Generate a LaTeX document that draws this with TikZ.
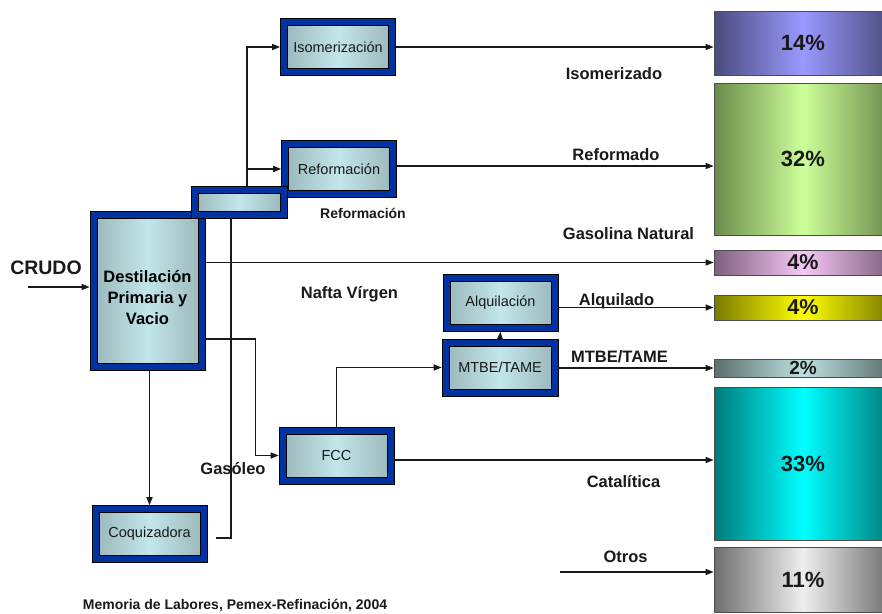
\documentclass[tikz,border=0pt]{standalone}
\usepackage{fontspec}
\setmainfont{Liberation Sans}
\usepackage{tikz}
\usetikzlibrary{arrows.meta,calc}
\definecolor{rmarco}{HTML}{0033A0}
\definecolor{rcelda}{HTML}{98B5B8}
\definecolor{rcian}{HTML}{C2E6EA}
\definecolor{c14a}{HTML}{4B4B7D}\definecolor{c14b}{HTML}{9999FF}
\definecolor{c32a}{HTML}{6B8A4B}\definecolor{c32b}{HTML}{CCFF99}
\definecolor{c4aa}{HTML}{7D5F7D}\definecolor{c4ab}{HTML}{F5C8F5}
\definecolor{c4ba}{HTML}{7A7A00}\definecolor{c4bb}{HTML}{FFFF00}
\definecolor{c2a}{HTML}{5A6E6E}\definecolor{c2b}{HTML}{BEE0E0}
\definecolor{c33a}{HTML}{007A7A}\definecolor{c33b}{HTML}{00FFFF}
\definecolor{c11a}{HTML}{6E6E6E}\definecolor{c11b}{HTML}{EEEEEE}
\tikzset{
  >={Triangle[length=8pt,width=6pt]},
  rflujo/.style={->, black!90, line width=1.5pt},
  rlinea/.style={black!90, line width=1.5pt},
  runidad/.style={rectangle, draw=black, line width=0.6pt, fill=rmarco,
                  minimum width=115pt, minimum height=57pt, inner sep=0pt,
                  align=center, text=black!90, font=\fontsize{14.5}{16}\selectfont,
                  path picture={\shadedraw[left color=rcelda, right color=rcelda,
                    middle color=rcian, draw=black, line width=0.6pt]
                    ([shift={(7pt,-7pt)}]path picture bounding box.north west) rectangle
                    ([shift={(-7pt,7pt)}]path picture bounding box.south east);}},
  rbarra/.style 2 args={draw=black!70, line width=0.7pt, minimum width=178pt,
                  inner sep=0pt, left color=#1, right color=#1, middle color=#2},
  rlbl/.style={text=black!90, font=\fontsize{16.5}{18}\selectfont\bfseries},
  rsub/.style={text=black!90, font=\fontsize{14}{16}\selectfont\bfseries},
}
\begin{document}
\begin{tikzpicture}[x=1pt,y=-1pt]
  \useasboundingbox (0,0) rectangle (882,613);

  % barras de composicion
  \foreach \nom/\yc/\alto/\borde/\centro/\fs/\txt in {
      b14/43/64/c14a/c14b/22/14\%, b32/159/152/c32a/c32b/22/32\%,
      b4a/262.5/25/c4aa/c4ab/21.5/4\%, b4b/307.5/25/c4ba/c4bb/21.5/4\%,
      b2/368/18/c2a/c2b/19/2\%, b33/463.5/153/c33a/c33b/22/33\%,
      b11/580/65/c11a/c11b/22/11\%}
    \node[rbarra={\borde}{\centro}, minimum height=\alto pt, text=black!90,
          font=\fontsize{\fs}{\fs}\selectfont\bfseries] (\nom) at (803,\yc) {\txt};

  % unidades de proceso
  \node[runidad] (iso) at (338,47) {Isomerización};
  \node[runidad] (ref) at (339,169) {Reformación};
  \node[runidad, minimum height=159pt] (dest) at (147.5,290.5) {};
  \node[align=center, text=black, font=\fontsize{16.5}{21}\selectfont\bfseries]
        (tdest) at ([yshift=-7.5pt]dest.center) {Destilación\\Primaria y\\Vacio};
  \node[runidad, minimum width=96pt, minimum height=32pt] (split) at (239,202) {};
  \node[runidad] (coq) at (149.5,534) {Coquizadora};
  \node[runidad] (fcc) at (336.5,455.5) {FCC};
  \node[runidad] (alq) at (500.5,303) {Alquilación};
  \node[runidad, minimum width=116pt] (mtbe) at (500,367.5) {MTBE/TAME};

  \coordinate (crudo) at (28,287);
  \coordinate (otros) at (560,572);
  \coordinate (ramal) at ([xshift=8pt]split.north);
  \coordinate (retorno) at ([xshift=-8pt]split.south);
  \coordinate (fsal) at ([yshift=-4.5pt]fcc.east);

  % corrientes
  \draw[rflujo] (crudo) -- (crudo -| dest.west);
  \draw[rflujo] (ramal) |- (iso.west);
  \draw[rflujo] (ramal |- ref.west) -- (ref.west);
  \draw[rlinea, shorten <=9pt] ([yshift=-4pt]coq.east) -| (retorno);
  \draw[rflujo] (iso.east) -- (iso.east -| b14.west);
  \draw[rflujo] ([yshift=3pt]ref.east) -- ([yshift=3pt]ref.east -| b32.west);
  \draw[rflujo] (b4a.west -| dest.east) -- (b4a.west);
  \draw[rflujo] ([yshift=-48.5pt]dest.east) -- ++(50,0) |- (fcc.west);
  \draw[rflujo] (coq.north |- dest.south) -- (coq.north);
  \draw[rflujo] (fcc.north) |- (mtbe.west);
  \draw[rflujo] (mtbe.north) -- (alq.south);
  \draw[rflujo] (b4b.west -| alq.east) -- (b4b.west);
  \draw[rflujo] (b2.west -| mtbe.east) -- (b2.west);
  \draw[rflujo] (fsal) -- (fsal -| b33.west);
  \draw[rflujo] (otros) -- (otros -| b11.west);

  % rotulos
  \node[rlbl, font=\fontsize{19.5}{21}\selectfont\bfseries] (tcrudo) at (46,268) {CRUDO};
  \node[rlbl] (tisom) at (614,74) {Isomerizado};
  \node[rlbl] (tref) at (616,155) {Reformado};
  \node[rsub] (treff) at (363,213) {Reformación};
  \node[rlbl] (tgas) at (628.5,234) {Gasolina Natural};
  \node[rlbl] (tnafta) at (349.5,294) {Nafta Vírgen};
  \node[rlbl] (talq) at (616.5,301) {Alquilado};
  \node[rlbl] (tmtbe) at (619.5,357) {MTBE/TAME};
  \node[rlbl] (tcat) at (623.5,482) {Catalítica};
  \node[rlbl] (totros) at (625.5,557) {Otros};
  \node[rlbl] (tgasol) at (233,469) {Gasóleo};
  \node[rsub] (tfuente) at (235,605) {Memoria de Labores, Pemex-Refinación, 2004};
\end{tikzpicture}
\end{document}
